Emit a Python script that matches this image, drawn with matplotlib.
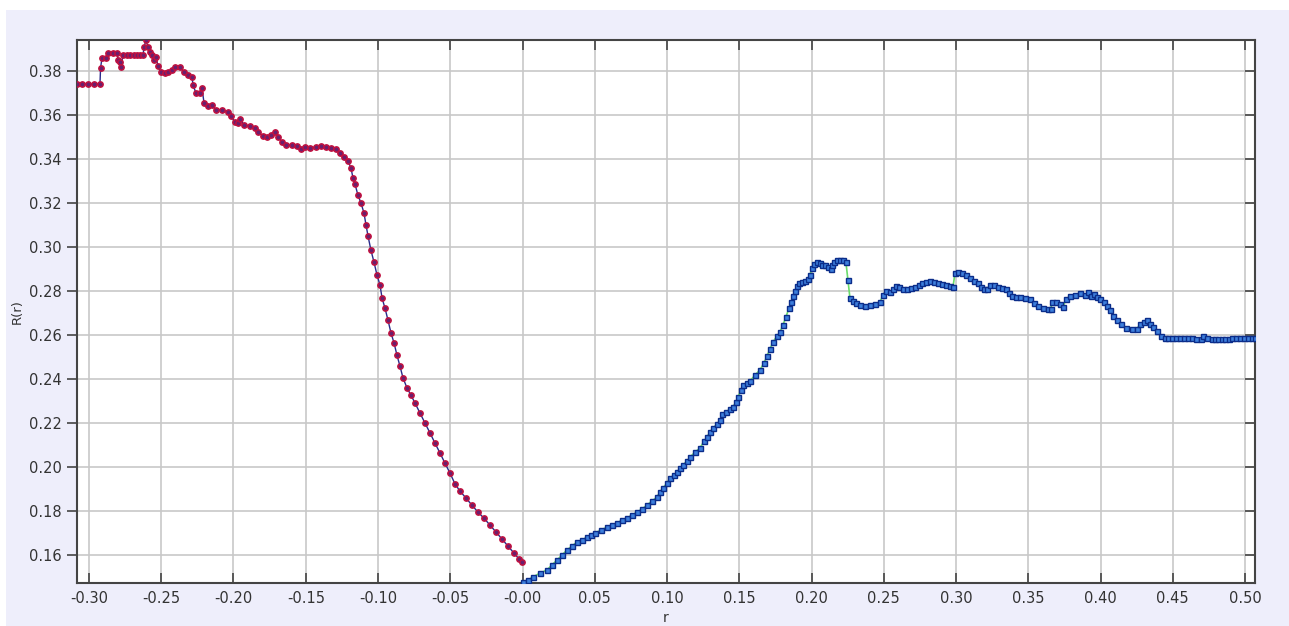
import matplotlib
matplotlib.use("Agg")
import matplotlib.pyplot as plt
from matplotlib.patches import Rectangle

# left branch (r < 0)
r_neg = [-0.3083, -0.3045, -0.3005, -0.2965, -0.2924, -0.2920, -0.2910, -0.2882, -0.2869, -0.2834,
         -0.2806, -0.2799, -0.2785, -0.2779, -0.2765, -0.2740, -0.2716, -0.2692, -0.2668, -0.2646,
         -0.2626, -0.2619, -0.2606, -0.2592, -0.2578, -0.2564, -0.2550, -0.2536, -0.2523, -0.2502,
         -0.2474, -0.2453, -0.2426, -0.2405, -0.2370, -0.2343, -0.2315, -0.2287, -0.2280, -0.2260,
         -0.2232, -0.2218, -0.2204, -0.2177, -0.2149, -0.2121, -0.2080, -0.2038, -0.2017, -0.1990,
         -0.1969, -0.1955, -0.1927, -0.1886, -0.1851, -0.1831, -0.1796, -0.1768, -0.1741, -0.1713,
         -0.1692, -0.1664, -0.1637, -0.1595, -0.1561, -0.1533, -0.1505, -0.1471, -0.1429, -0.1395,
         -0.1360, -0.1325, -0.1291, -0.1263, -0.1235, -0.1208, -0.1187, -0.1173, -0.1159, -0.1139,
         -0.1118, -0.1097, -0.1083, -0.1069, -0.1049, -0.1028, -0.1007, -0.0986, -0.0972, -0.0952,
         -0.0931, -0.0910, -0.0889, -0.0869, -0.0848, -0.0827, -0.0799, -0.0772, -0.0744, -0.0709,
         -0.0675, -0.0640, -0.0606, -0.0571, -0.0537, -0.0502, -0.0467, -0.0433, -0.0391, -0.0350,
         -0.0308, -0.0267, -0.0225, -0.0184, -0.0142, -0.0101, -0.0059, -0.0024, -0.0003]
R_neg = [0.3741, 0.3741, 0.3741, 0.3741, 0.3741, 0.3814, 0.3859, 0.3859, 0.3882, 0.3882,
         0.3882, 0.3850, 0.3841, 0.3818, 0.3873, 0.3873, 0.3873, 0.3873, 0.3873, 0.3873,
         0.3873, 0.3909, 0.3941, 0.3909, 0.3886, 0.3873, 0.3850, 0.3864, 0.3823, 0.3795,
         0.3791, 0.3795, 0.3805, 0.3818, 0.3818, 0.3795, 0.3782, 0.3773, 0.3736, 0.3700,
         0.3700, 0.3723, 0.3655, 0.3641, 0.3645, 0.3623, 0.3623, 0.3614, 0.3595, 0.3568,
         0.3564, 0.3582, 0.3555, 0.3550, 0.3541, 0.3523, 0.3505, 0.3500, 0.3509, 0.3523,
         0.3500, 0.3477, 0.3464, 0.3464, 0.3459, 0.3445, 0.3455, 0.3450, 0.3455, 0.3459,
         0.3455, 0.3450, 0.3445, 0.3427, 0.3409, 0.3391, 0.3359, 0.3314, 0.3286, 0.3236,
         0.3200, 0.3155, 0.3100, 0.3050, 0.2986, 0.2932, 0.2873, 0.2827, 0.2768, 0.2723,
         0.2668, 0.2609, 0.2564, 0.2509, 0.2459, 0.2405, 0.2359, 0.2327, 0.2291, 0.2245,
         0.2200, 0.2155, 0.2109, 0.2064, 0.2018, 0.1973, 0.1923, 0.1891, 0.1859, 0.1827,
         0.1795, 0.1768, 0.1736, 0.1705, 0.1673, 0.1641, 0.1609, 0.1582, 0.1568]

# right branch (r > 0)
r_pos = [0.0003, 0.0038, 0.0072, 0.0121, 0.0169, 0.0204, 0.0239, 0.0273, 0.0308, 0.0342,
         0.0377, 0.0412, 0.0446, 0.0474, 0.0502, 0.0543, 0.0585, 0.0619, 0.0654, 0.0688,
         0.0723, 0.0758, 0.0792, 0.0827, 0.0861, 0.0896, 0.0931, 0.0951, 0.0972, 0.1000,
         0.1021, 0.1048, 0.1069, 0.1090, 0.1110, 0.1138, 0.1159, 0.1194, 0.1228, 0.1256,
         0.1277, 0.1297, 0.1318, 0.1346, 0.1367, 0.1381, 0.1408, 0.1436, 0.1456, 0.1477,
         0.1491, 0.1512, 0.1526, 0.1553, 0.1574, 0.1609, 0.1643, 0.1671, 0.1692, 0.1712,
         0.1733, 0.1761, 0.1782, 0.1802, 0.1823, 0.1844, 0.1858, 0.1872, 0.1885, 0.1899,
         0.1913, 0.1934, 0.1955, 0.1975, 0.1989, 0.2003, 0.2017, 0.2038, 0.2058, 0.2072,
         0.2093, 0.2114, 0.2135, 0.2141, 0.2155, 0.2176, 0.2197, 0.2218, 0.2238, 0.2252,
         0.2266, 0.2287, 0.2308, 0.2335, 0.2370, 0.2404, 0.2439, 0.2474, 0.2494, 0.2515,
         0.2543, 0.2564, 0.2584, 0.2605, 0.2633, 0.2661, 0.2688, 0.2716, 0.2744, 0.2764,
         0.2792, 0.2820, 0.2847, 0.2875, 0.2903, 0.2930, 0.2958, 0.2979, 0.2993, 0.3013,
         0.3041, 0.3069, 0.3097, 0.3124, 0.3152, 0.3173, 0.3193, 0.3214, 0.3235, 0.3263,
         0.3290, 0.3318, 0.3346, 0.3366, 0.3387, 0.3415, 0.3443, 0.3477, 0.3512, 0.3539,
         0.3567, 0.3602, 0.3636, 0.3657, 0.3664, 0.3692, 0.3719, 0.3740, 0.3761, 0.3789,
         0.3823, 0.3858, 0.3892, 0.3913, 0.3934, 0.3955, 0.3975, 0.3996, 0.4024, 0.4045,
         0.4066, 0.4086, 0.4114, 0.4142, 0.4176, 0.4218, 0.4252, 0.4273, 0.4301, 0.4322,
         0.4342, 0.4363, 0.4391, 0.4419, 0.4446, 0.4470, 0.4495, 0.4522, 0.4550, 0.4578,
         0.4605, 0.4632, 0.4660, 0.4695, 0.4709, 0.4737, 0.4771, 0.4792, 0.4813, 0.4838,
         0.4862, 0.4886, 0.4910, 0.4938, 0.4965, 0.4992, 0.5020, 0.5045, 0.5069]
R_pos = [0.1476, 0.1487, 0.1500, 0.1518, 0.1532, 0.1555, 0.1577, 0.1600, 0.1623, 0.1641,
         0.1659, 0.1668, 0.1682, 0.1691, 0.1700, 0.1714, 0.1727, 0.1736, 0.1745, 0.1759,
         0.1768, 0.1782, 0.1795, 0.1809, 0.1827, 0.1845, 0.1864, 0.1886, 0.1905, 0.1927,
         0.1950, 0.1964, 0.1977, 0.1995, 0.2009, 0.2027, 0.2045, 0.2068, 0.2086, 0.2118,
         0.2136, 0.2159, 0.2177, 0.2195, 0.2214, 0.2241, 0.2250, 0.2264, 0.2273, 0.2295,
         0.2318, 0.2350, 0.2373, 0.2382, 0.2391, 0.2418, 0.2441, 0.2473, 0.2505, 0.2536,
         0.2568, 0.2595, 0.2614, 0.2645, 0.2682, 0.2723, 0.2750, 0.2777, 0.2800, 0.2823,
         0.2836, 0.2841, 0.2845, 0.2855, 0.2873, 0.2905, 0.2923, 0.2932, 0.2927, 0.2918,
         0.2918, 0.2909, 0.2900, 0.2918, 0.2932, 0.2941, 0.2941, 0.2941, 0.2932, 0.2850,
         0.2768, 0.2755, 0.2745, 0.2736, 0.2732, 0.2736, 0.2741, 0.2750, 0.2782, 0.2800,
         0.2795, 0.2809, 0.2823, 0.2818, 0.2809, 0.2809, 0.2814, 0.2818, 0.2827, 0.2836,
         0.2841, 0.2845, 0.2841, 0.2836, 0.2832, 0.2827, 0.2823, 0.2818, 0.2882, 0.2886,
         0.2882, 0.2873, 0.2859, 0.2845, 0.2836, 0.2818, 0.2809, 0.2809, 0.2827, 0.2827,
         0.2818, 0.2814, 0.2809, 0.2791, 0.2777, 0.2773, 0.2773, 0.2768, 0.2764, 0.2745,
         0.2732, 0.2723, 0.2718, 0.2718, 0.2750, 0.2750, 0.2741, 0.2727, 0.2764, 0.2777,
         0.2782, 0.2791, 0.2782, 0.2795, 0.2777, 0.2786, 0.2773, 0.2764, 0.2750, 0.2732,
         0.2714, 0.2686, 0.2668, 0.2650, 0.2632, 0.2627, 0.2627, 0.2650, 0.2659, 0.2668,
         0.2650, 0.2636, 0.2618, 0.2595, 0.2586, 0.2586, 0.2586, 0.2586, 0.2586, 0.2586,
         0.2586, 0.2586, 0.2582, 0.2582, 0.2595, 0.2586, 0.2582, 0.2582, 0.2582, 0.2582,
         0.2582, 0.2584, 0.2586, 0.2586, 0.2586, 0.2586, 0.2586, 0.2586, 0.2586]

x_ticks = [-0.30, -0.25, -0.20, -0.15, -0.10, -0.05, 0.0, 0.05, 0.10, 0.15,
           0.20, 0.25, 0.30, 0.35, 0.40, 0.45, 0.50]
x_tick_labels = ['-0.30', '-0.25', '-0.20', '-0.15', '-0.10', '-0.05', '-0.00', '0.05', '0.10', '0.15',
                 '0.20', '0.25', '0.30', '0.35', '0.40', '0.45', '0.50']
y_ticks = [0.16, 0.18, 0.20, 0.22, 0.24, 0.26, 0.28, 0.30, 0.32, 0.34, 0.36, 0.38]
y_tick_labels = ['0.16', '0.18', '0.20', '0.22', '0.24', '0.26', '0.28', '0.30', '0.32', '0.34', '0.36', '0.38']

fig = plt.figure(figsize=(12.89, 6.26), dpi=100, facecolor='#eeeefb')
# white strips along the top and left edge
fig.patches.append(Rectangle((0, 1 - 10 / 626), 1, 10 / 626, transform=fig.transFigure,
                             facecolor='white', edgecolor='none', zorder=-10))
fig.patches.append(Rectangle((0, 0), 6 / 1289, 1, transform=fig.transFigure,
                             facecolor='white', edgecolor='none', zorder=-10))

ax = fig.add_axes([77 / 1289, 1 - 583 / 626, 1178 / 1289, 543 / 626])
ax.set_facecolor('white')

ax.plot(r_neg, R_neg, color='#2a2a8a', linewidth=1.0, marker='o', markersize=3.8,
        markerfacecolor='#6a1f6e', markeredgecolor='#c0103f', markeredgewidth=1.1, zorder=3)
ax.plot(r_pos, R_pos, color='#6bdc6b', linewidth=1.2, marker='s', markersize=3.6,
        markerfacecolor='#3d7fdc', markeredgecolor='#0b2d8a', markeredgewidth=1.0, zorder=3)

ax.set_xlim(-0.3083, 0.5069)
ax.set_ylim(0.1473, 0.3941)
ax.set_xticks(x_ticks)
ax.set_xticklabels(x_tick_labels)
ax.set_yticks(y_ticks)
ax.set_yticklabels(y_tick_labels)

ax.grid(True, color='#c8c8c8', linewidth=1.2)
ax.set_axisbelow(True)

ax.tick_params(axis='y', which='both', direction='out', length=7, width=1.2, colors='#444444',
               labelcolor='#333333', labelsize=10.5, right=True, pad=4)
ax.tick_params(axis='x', which='both', direction='in', length=7, width=1.2, colors='#444444',
               labelcolor='#333333', labelsize=10.5, top=True, pad=6)
for t in ax.yaxis.get_major_ticks():
    t.tick2line.set_marker(matplotlib.lines.TICKLEFT)

for s in ax.spines.values():
    s.set_color('#444444')
    s.set_linewidth(1.5)

ax.set_xlabel('r', fontsize=10, color='#333333', labelpad=3)
ax.set_ylabel('R(r)', fontsize=9.5, color='#333333', labelpad=4)

fig.savefig('out.png', dpi=100, facecolor=fig.get_facecolor())
